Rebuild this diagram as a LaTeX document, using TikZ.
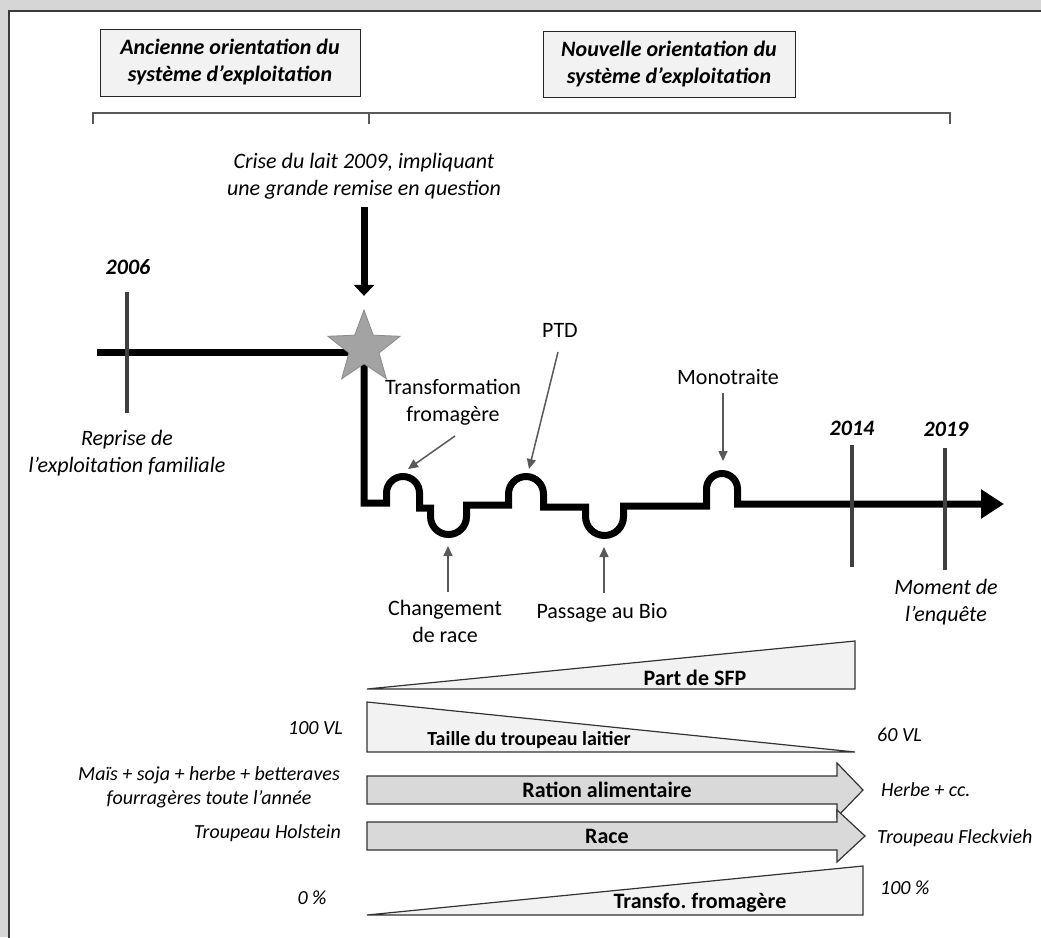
\documentclass[tikz,border=0pt]{standalone}
\usepackage{fontspec}
\setmainfont{Carlito}
\usetikzlibrary{arrows.meta,shapes.geometric}
\definecolor{bggray}{HTML}{D6D6D6}
\definecolor{framec}{HTML}{3A3A3A}
\definecolor{boxfill}{HTML}{F2F2F2}
\definecolor{arrfill}{HTML}{D9D9D9}
\definecolor{ptrgray}{HTML}{595959}
\definecolor{tickc}{HTML}{404040}
\definecolor{starfill}{HTML}{A3A3A3}
\pgfdeclarelayer{bg}
\pgfsetlayers{bg,main}
\frenchspacing
\begin{document}
\begin{tikzpicture}[x=1pt,y=-1pt,
  hdr/.style={draw=black!85, line width=1pt, fill=boxfill, align=center, inner sep=0pt,
    font=\fontsize{22}{27}\selectfont\bfseries\itshape},
  lab/.style={align=center, font=\fontsize{22}{27}\selectfont, inner sep=0pt},
  ilab/.style={align=center, font=\fontsize{22}{27}\selectfont\itshape, inner sep=0pt},
  yearlab/.style={font=\fontsize{22}{27}\selectfont\bfseries\itshape, inner sep=0pt},
  slab/.style={align=center, font=\fontsize{20}{24}\selectfont\itshape, inner sep=0pt},
  blab/.style={font=\fontsize{22}{27}\selectfont\bfseries, inner sep=0pt},
  heavy/.style={line width=7pt, black},
  tickline/.style={line width=3.5pt, tickc},
  pointer/.style={ptrgray, line width=1.5pt, -{Triangle[length=10pt,width=9pt]}},
  wedge/.style={draw=black!80, line width=1.2pt, fill=boxfill},
  blockarrow/.style={draw=black!80, line width=1.2pt, fill=arrfill},
  bracketline/.style={ptrgray, line width=1.2pt},
]
\useasboundingbox (0,0) rectangle (1041,937);

% headers
\node[hdr, minimum width=260pt, minimum height=67pt] (hdrA) at (230,62.5) {Ancienne orientation du\\système d’exploitation};
\node[hdr, minimum width=252pt, minimum height=66pt] (hdrB) at (669,64) {Nouvelle orientation du\\système d’exploitation};
\draw[bracketline] (93,124) -- (93,113) -- (950,113) -- (950,124);
\draw[bracketline] (369,113) -- (369,124);

% crisis
\node[ilab] (crise) at (364,176) {Crise du lait 2009, impliquant\\une grande remise en question};
\node[star, star points=5, star point ratio=2.4, minimum size=76pt, inner sep=0pt,
  fill=starfill, draw=starfill!85!black, line width=0.8pt] (star) at (364,348) {};
\draw[line width=7pt, -{Triangle[width=20pt,length=11pt]}, shorten <=8pt, shorten >=13pt] (crise) -- (star);

\begin{pgfonlayer}{bg}
\fill[bggray] (0,0) rectangle (1041,937);
\draw[framec, line width=2pt, fill=white] (8.5,11) rectangle (1050,950);
\coordinate (L0) at (97,352);
\coordinate (L1) at (364,352);
\draw[heavy] (L0) -- (L1);
\coordinate (tlend) at (1004,504);
\draw[heavy, -{Triangle[width=28pt,length=23pt]}] (364,347) -- (364,503) -- (386.5,503) -- (386.5,493)
  arc[start angle=180,end angle=360,radius=16.5] -- (419.5,508) -- (430.5,508) -- (430.5,516.5)
  arc[start angle=180,end angle=0,radius=18] -- (466.5,505) -- (508.5,505) -- (508.5,494)
  arc[start angle=180,end angle=360,radius=17.5] -- (543.5,507) -- (585.5,507) -- (585.5,516.5)
  arc[start angle=180,end angle=0,radius=19] -- (623.5,506) -- (706.5,506) -- (706.5,489)
  arc[start angle=180,end angle=360,radius=15.5] -- (737.5,504) -- (tlend);
\end{pgfonlayer}

% 2006
\node[yearlab] (y2006) at (128,267) {2006};
\draw[tickline] (127,292) -- (127,413);
\node[ilab] (reprise) at (127,453) {Reprise de\\l’exploitation familiale};

% 2014, 2019
\node[yearlab] (y2014) at (852,428) {2014};
\node[yearlab] (y2019) at (946,429) {2019};
\draw[tickline] (852,445) -- (852,567);
\draw[tickline] (945,448) -- (945,570);
\node[ilab] (moment) at (946,602) {Moment de\\l’enquête};

% events
\node[lab] (transfo) at (453,402) {Transformation\\fromagère};
\coordinate (pA0) at (455,436); \coordinate (pA1) at (408,469);
\draw[pointer] (pA0) -- (pA1);
\node[lab] (ptd) at (560,330) {PTD};
\coordinate (pB0) at (558,352); \coordinate (pB1) at (529,469);
\draw[pointer] (pB0) -- (pB1);
\node[lab] (mono) at (728,377) {Monotraite};
\coordinate (pC0) at (723,393); \coordinate (pC1) at (723,461);
\draw[pointer] (pC0) -- (pC1);
\node[lab] (chg) at (445,621) {Changement\\de race};
\coordinate (pD0) at (448,592); \coordinate (pD1) at (448,546);
\draw[pointer] (pD0) -- (pD1);
\node[lab] (bio) at (602,613) {Passage au Bio};
\coordinate (pE0) at (604,593); \coordinate (pE1) at (604,547);
\draw[pointer] (pE0) -- (pE1);

% bottom section
\draw[wedge] (367,689) -- (855,689) -- (855,641) -- cycle;
\node[blab] (sfp) at (695,678) {Part de SFP};
\draw[wedge] (367,702) -- (367,752) -- (855,752) -- cycle;
\node[font=\fontsize{20}{24}\selectfont\bfseries, inner sep=0pt] (taille) at (529,740) {Taille du troupeau laitier};
\node[slab, anchor=east] (vl100) at (343,728) {100 VL};
\node[slab, anchor=west] (vl60) at (877,735) {60 VL};

\draw[blockarrow] (367,776) -- (837,776) -- (837,763) -- (863,790) -- (837,817) -- (837,804) -- (367,804) -- cycle;
\node[blab] (ration) at (607,790) {Ration alimentaire};
\node[slab] (mais) at (209,787) {Maïs + soja + herbe + betteraves\\fourragères toute l’année};
\node[slab, anchor=west] (herbe) at (881,790) {Herbe + cc.};

\draw[blockarrow] (367,822) -- (837,822) -- (837,810) -- (865,836) -- (837,862) -- (837,850) -- (367,850) -- cycle;
\node[blab] (race) at (607,836) {Race};
\node[slab, anchor=east] (holst) at (341,833) {Troupeau Holstein};
\node[slab, anchor=west] (fleck) at (877,838) {Troupeau Fleckvieh};

\draw[wedge] (367,915) -- (863,915) -- (863,866) -- cycle;
\node[blab] (transf) at (700,903) {Transfo. fromagère};
\node[slab] (p0) at (312,898) {0 \%};
\node[slab, anchor=west] (p100) at (880,888) {100 \%};
\end{tikzpicture}
\end{document}
